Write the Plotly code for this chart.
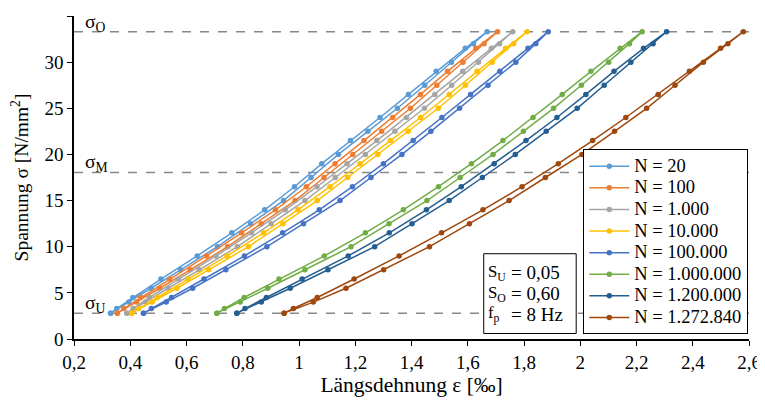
import plotly.graph_objects as go

# stress levels of the markers (N/mm²): rising branch and falling branch
sigma_up = [2.8, 4.0, 5.5, 7.5, 10, 12.5, 15, 17.5, 20, 22.5, 25, 27.5, 30, 32, 33.3]
sigma_down = [33.3, 31.5, 29, 26.5, 24, 21.5, 19, 16.5, 14, 11.5, 9, 6.5, 4.5, 3.3, 2.8]

names = ["N = 20", "N = 100", "N = 1.000", "N = 10.000", "N = 100.000",
         "N = 1.000.000", "N = 1.200.000", "N = 1.272.840"]
colors = ["#5B9BD5", "#ED7D31", "#A5A5A5", "#FFC000", "#4472C4",
          "#70AD47", "#255E91", "#9E480E"]

# strain (‰) on the rising branch, per load cycle count
eps_up_20 = [0.330, 0.395, 0.474, 0.579, 0.710, 0.828, 0.945, 1.043, 1.140, 1.245, 1.350, 1.447, 1.542, 1.620, 1.669]
eps_up_100 = [0.354, 0.423, 0.505, 0.613, 0.746, 0.866, 0.986, 1.089, 1.191, 1.294, 1.396, 1.490, 1.583, 1.658, 1.706]
eps_up_1000 = [0.388, 0.455, 0.535, 0.645, 0.781, 0.901, 1.021, 1.129, 1.236, 1.341, 1.446, 1.543, 1.638, 1.713, 1.760]
eps_up_10000 = [0.405, 0.478, 0.566, 0.679, 0.820, 0.943, 1.065, 1.173, 1.280, 1.388, 1.495, 1.592, 1.687, 1.763, 1.811]
eps_up_100000 = [0.447, 0.528, 0.622, 0.740, 0.886, 1.016, 1.146, 1.256, 1.366, 1.469, 1.571, 1.672, 1.771, 1.842, 1.886]
eps_up_1000000 = [0.708, 0.791, 0.889, 1.021, 1.185, 1.320, 1.455, 1.573, 1.690, 1.798, 1.905, 2.004, 2.101, 2.175, 2.220]
eps_up_1200000 = [0.779, 0.866, 0.969, 1.103, 1.269, 1.402, 1.534, 1.652, 1.769, 1.879, 1.989, 2.085, 2.180, 2.259, 2.307]
eps_up_1272840 = [0.947, 1.051, 1.167, 1.301, 1.464, 1.606, 1.747, 1.876, 2.006, 2.122, 2.236, 2.337, 2.438, 2.525, 2.580]

# strain (‰) on the falling branch
eps_down_20 = [1.669, 1.591, 1.488, 1.389, 1.288, 1.183, 1.081, 0.984, 0.878, 0.761, 0.638, 0.509, 0.409, 0.352, 0.330]
eps_down_100 = [1.706, 1.629, 1.528, 1.432, 1.333, 1.231, 1.128, 1.026, 0.916, 0.796, 0.671, 0.540, 0.437, 0.377, 0.354]
eps_down_1000 = [1.760, 1.684, 1.582, 1.483, 1.382, 1.277, 1.171, 1.064, 0.951, 0.831, 0.705, 0.571, 0.468, 0.410, 0.388]
eps_down_10000 = [1.811, 1.735, 1.633, 1.534, 1.432, 1.325, 1.217, 1.110, 0.996, 0.874, 0.744, 0.605, 0.496, 0.430, 0.405]
eps_down_100000 = [1.886, 1.814, 1.714, 1.610, 1.508, 1.406, 1.300, 1.190, 1.072, 0.942, 0.806, 0.662, 0.547, 0.475, 0.447]
eps_down_1000000 = [2.220, 2.142, 2.038, 1.936, 1.832, 1.725, 1.613, 1.496, 1.371, 1.236, 1.090, 0.929, 0.805, 0.735, 0.708]
eps_down_1200000 = [2.307, 2.225, 2.120, 2.020, 1.917, 1.807, 1.694, 1.577, 1.453, 1.321, 1.175, 1.011, 0.884, 0.808, 0.779]
eps_down_1272840 = [2.580, 2.499, 2.388, 2.277, 2.162, 2.044, 1.922, 1.793, 1.654, 1.507, 1.356, 1.196, 1.065, 0.980, 0.947]

eps_up = [eps_up_20, eps_up_100, eps_up_1000, eps_up_10000, eps_up_100000,
          eps_up_1000000, eps_up_1200000, eps_up_1272840]
eps_down = [eps_down_20, eps_down_100, eps_down_1000, eps_down_10000, eps_down_100000,
            eps_down_1000000, eps_down_1200000, eps_down_1272840]

# reference stress levels
sigma_levels = [33.3, 18.05, 2.8]
sigma_labels = ["σ<sub>O</sub>", "σ<sub>M</sub>", "σ<sub>U</sub>"]

# test parameters
param_labels = ["S<sub>U</sub>", "S<sub>O</sub>", "f<sub>p</sub>"]
param_values = ["= 0,05", "= 0,60", "= 8 Hz"]

x_ticks = [0.2, 0.4, 0.6, 0.8, 1.0, 1.2, 1.4, 1.6, 1.8, 2.0, 2.2, 2.4, 2.6]
x_ticktext = ["0,2", "0,4", "0,6", "0,8", "1", "1,2", "1,4", "1,6", "1,8", "2", "2,2", "2,4", "2,6"]
y_ticks = [0, 5, 10, 15, 20, 25, 30, 35]

FONT = "Liberation Serif, Times New Roman, serif"

fig = go.Figure()
for name, col, up, down in zip(names, colors, eps_up, eps_down):
    fig.add_trace(go.Scatter(
        x=up + down[1:], y=sigma_up + sigma_down[1:],
        mode="lines+markers",
        # legend rows are spaced by the legend font size; the label itself is drawn larger
        name='<span style="font-size:18.5px">' + name + '</span>',
        line=dict(color=col, width=1.5),
        marker=dict(color=col, size=5.5, symbol="circle"),
    ))

for lvl, lab in zip(sigma_levels, sigma_labels):
    fig.add_shape(type="line", xref="paper", yref="y", x0=0, x1=1, y0=lvl, y1=lvl,
                  line=dict(color="#888888", width=1.5, dash="dash"), layer="below")
    fig.add_annotation(xref="paper", yref="y", x=0.014, y=lvl, text=lab, showarrow=False,
                       xanchor="left", yanchor="middle", yshift=9,
                       font=dict(family=FONT, size=19.5, color="black"))

# parameter box
fig.add_shape(type="rect", xref="paper", yref="paper", x0=0.607, x1=0.744, y0=0.017, y1=0.264,
              line=dict(color="black", width=1), fillcolor="white", layer="above")
row_y = [0.205, 0.140, 0.076]
for lab, val, yy in zip(param_labels, param_values, row_y):
    fig.add_annotation(xref="paper", yref="paper", x=0.611, y=yy, text=lab,
                       showarrow=False, xanchor="left", yanchor="middle", align="left",
                       font=dict(family=FONT, size=16.8, color="black"))
    fig.add_annotation(xref="paper", yref="paper", x=0.645, y=yy, text=val,
                       showarrow=False, xanchor="left", yanchor="middle", align="left",
                       font=dict(family=FONT, size=19, color="black"))

# the page body adds an 8 px offset, so the figure is 8 px smaller on each far side
fig.update_layout(
    width=757, height=393,
    margin=dict(l=66, r=16, t=8, b=62),
    paper_bgcolor="white", plot_bgcolor="white",
    font=dict(family=FONT, size=16, color="black"),
    showlegend=True,
    legend=dict(x=0.999, y=0.014, xanchor="right", yanchor="bottom",
                bgcolor="white", bordercolor="black", borderwidth=1,
                font=dict(family=FONT, size=14.3), itemwidth=40, tracegroupgap=0),
)
fig.update_xaxes(range=[0.2, 2.6], tickvals=x_ticks, ticktext=x_ticktext, automargin=False,
                 showline=True, linecolor="black", linewidth=1.5, ticks="outside",
                 ticklen=5, tickcolor="black", showgrid=False, zeroline=False,
                 tickfont=dict(family=FONT, size=19),
                 title=dict(text="Längsdehnung ε [‰]", font=dict(family=FONT, size=21.5), standoff=1))
fig.update_yaxes(range=[0, 35], tickvals=y_ticks, automargin=False,
                 showline=True, linecolor="black", linewidth=1.5, ticks="outside",
                 ticklen=5, tickcolor="black", showgrid=False, zeroline=False,
                 tickfont=dict(family=FONT, size=19),
                 title=dict(text="Spannung σ [N/mm<sup>2</sup>]", font=dict(family=FONT, size=19.5), standoff=15))

fig.write_html("out.html")
